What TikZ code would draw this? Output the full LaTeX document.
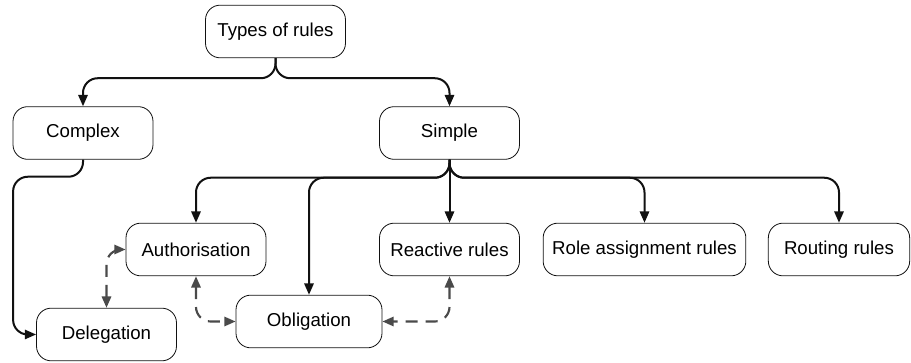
\documentclass[tikz,border=0pt]{standalone}
\usepackage{fontspec}
\setsansfont{Liberation Sans}
\usetikzlibrary{arrows.meta,calc}
\definecolor{ruleblack}{HTML}{111111}
\definecolor{rulegrey}{HTML}{4A4A4A}
\tikzset{
  >={Triangle[length=8.5pt,width=7pt]},
  font=\sffamily\fontsize{14}{16.5}\selectfont,
  rulebox/.style={draw=ruleblack,line width=0.6pt,rounded corners=11pt,fill=white,
                  minimum width=105pt,minimum height=39.5pt,inner sep=2pt,align=center},
  link/.style={->,line width=1.5pt,draw=ruleblack,rounded corners=11pt},
  relation/.style={<->,line width=1.6pt,draw=rulegrey,rounded corners=11pt,
                   dash pattern=on 9pt off 6pt},
}

\begin{document}
\begin{tikzpicture}[x=0.75pt,y=-0.75pt]
  \useasboundingbox (0,0) rectangle (911,363);

  % ---- rule nodes ----
  \node[rulebox] (types)   at (275.5,31.5) {Types of rules};
  \node[rulebox] (complex) at (83,133)     {Complex};
  \node[rulebox] (simple)  at (449.5,133)  {Simple};
  \node[rulebox] (auth)    at (196,249.5)  {Authorisation};
  \node[rulebox] (deleg)   at (106.5,334.5){Delegation};
  \node[rulebox,minimum width=109.5pt] (oblig) at (309,321.5) {Obligation};
  \node[rulebox] (react)   at (449.5,249.5){Reactive rules};
  \node[rulebox,minimum width=152pt] (role) at (644.5,249.5) {Role assignment rules};
  \node[rulebox,minimum width=106pt] (route) at (839,249.5) {Routing rules};

  % ---- hierarchy ----
  \draw[link] (types.south) -- ++(0,20) -| (complex.north);
  \draw[link] (types.south) -- ++(0,20) -| (simple.north);
  \draw[link] (complex.south) -- ++(0,17) -| ($(deleg.west)+(-23,0)$) -- (deleg.west);
  \foreach \n in {auth,oblig,role,route}{
    \draw[link] (simple.south) -- ++(0,18) -| (\n.north);
  }
  \draw[link] (simple.south) -- (react.north);

  % ---- dashed relations ----
  \draw[relation] (deleg.north) |- (auth.west);
  \draw[relation] (auth.south) |- (oblig.west);
  \draw[relation] (react.south) |- (oblig.east);
\end{tikzpicture}
\end{document}
